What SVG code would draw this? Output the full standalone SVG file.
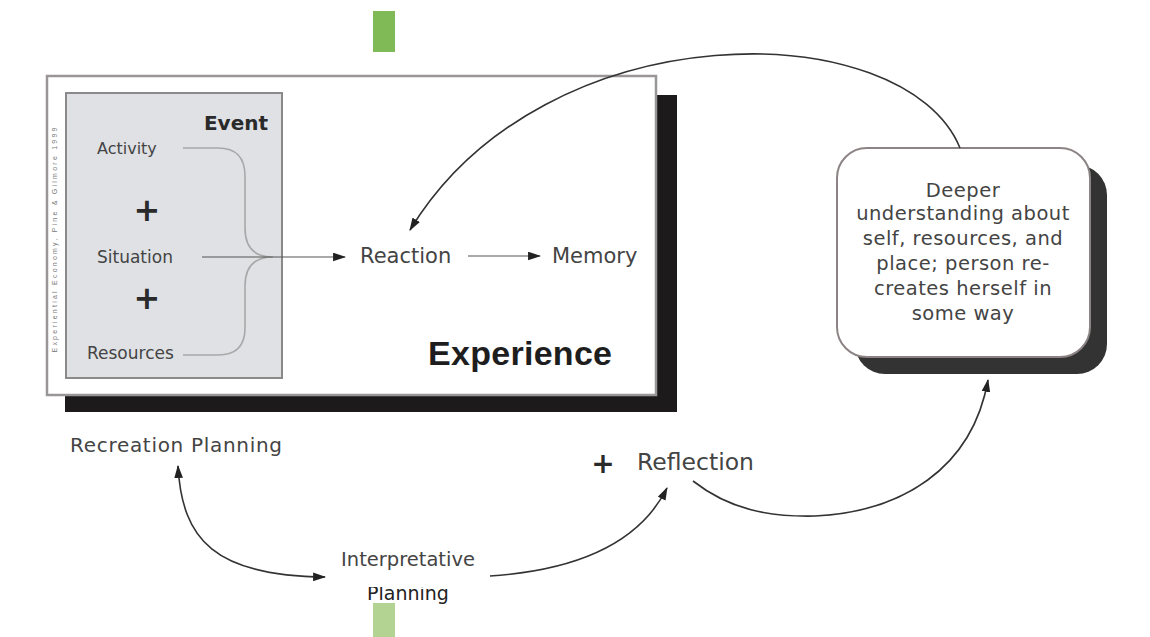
<svg xmlns="http://www.w3.org/2000/svg" width="1150" height="637" viewBox="0 0 1150 637">
  <defs>
    <style>
      .lbl { font-family: "DejaVu Sans", "Liberation Sans", sans-serif; fill: #444; }
      .plus { font-family: "DejaVu Sans", sans-serif; font-weight: bold; fill: #2a2a2a; text-anchor: middle; }
      .conn { fill: none; stroke: #333; stroke-width: 1.6; }
      .thin { fill: none; stroke: #555; stroke-width: 1.2; }
    </style>
    <marker id="ah" viewBox="0 0 12 8" refX="11" refY="4" markerWidth="13" markerHeight="9" markerUnits="userSpaceOnUse" orient="auto-start-reverse">
      <path d="M0,0 L12,4 L0,8 Z" fill="#222"/>
    </marker>
    <clipPath id="clipPlan">
      <rect x="300" y="587" width="250" height="40"/>
    </clipPath>
  </defs>
  <rect width="1150" height="637" fill="#ffffff"/>

  <!-- decorative green bars -->
  <rect x="373" y="11" width="22" height="41" fill="#7fba56"/>
  <rect x="373" y="603" width="22" height="34" fill="#b3d393"/>

  <!-- Experience box -->
  <g id="experience">
    <rect x="65" y="95" width="612" height="317" fill="#1c1a1b"/>
    <rect x="47" y="76" width="609" height="319" fill="#ffffff" stroke="#9a9696" stroke-width="2.5"/>
    <text x="57" y="240" font-family="Liberation Sans, sans-serif" font-size="7" fill="#777" text-anchor="middle" transform="rotate(-90 57 240)" textLength="225">Experiential Economy, Pine &amp; Gilmore 1999</text>
    <text x="428" y="365" font-family="Liberation Sans, sans-serif" font-weight="bold" font-size="34" fill="#1e1e1e" textLength="184">Experience</text>
  </g>

  <!-- Event box -->
  <g id="event">
    <rect x="66" y="93" width="216" height="285" fill="#dfe1e5" stroke="#8a8a8a" stroke-width="2"/>
    <text x="268" y="130" class="lbl" font-weight="bold" font-size="20" text-anchor="end" style="fill:#2a2a2a">Event</text>
    <text x="97" y="154" class="lbl" font-size="16">Activity</text>
    <text x="147" y="221" class="plus" font-size="32">+</text>
    <text x="97" y="263" class="lbl" font-size="17">Situation</text>
    <text x="147" y="309" class="plus" font-size="32">+</text>
    <text x="87" y="359" class="lbl" font-size="17">Resources</text>
    <path d="M183 148 H218 Q245 148 245 176 V228 Q245 257 273 257 Q245 257 245 286 V328 Q245 355 218 355 H183" fill="none" stroke="#a8a8a8" stroke-width="1.6"/>
  </g>

  <g id="reaction">
    <text x="360" y="263" class="lbl" font-size="21">Reaction</text>
  </g>
  <g id="memory">
    <text x="552" y="263" class="lbl" font-size="21">Memory</text>
  </g>

  <!-- Deeper understanding box -->
  <g id="deeper">
    <rect x="855" y="165" width="252" height="209" rx="30" ry="30" fill="#333333"/>
    <rect x="837" y="148" width="253" height="209" rx="30" ry="30" fill="#ffffff" stroke="#8c8484" stroke-width="2"/>
    <g class="lbl" font-size="19.5" text-anchor="middle" letter-spacing="0.5">
      <text x="963" y="197">Deeper</text>
      <text x="963" y="220">understanding about</text>
      <text x="963" y="245">self, resources, and</text>
      <text x="963" y="270">place; person re-</text>
      <text x="963" y="295">creates herself in</text>
      <text x="963" y="320">some way</text>
    </g>
  </g>

  <g id="recreation-planning">
    <text x="70" y="452" class="lbl" font-size="20" letter-spacing="0.7">Recreation Planning</text>
  </g>

  <g id="interpretative-planning">
    <text x="408" y="566" class="lbl" font-size="19.5" text-anchor="middle">Interpretative</text>
    <text x="408" y="600" font-family="DejaVu Sans, sans-serif" font-size="19" fill="#222" text-anchor="middle" clip-path="url(#clipPlan)">Planning</text>
  </g>

  <g id="reflection">
    <text x="603" y="473" class="plus" font-size="28">+</text>
    <text x="637" y="470" class="lbl" font-size="23.5">Reflection</text>
  </g>

  <!-- connectors -->
  <g id="connectors">
    <path class="thin" d="M202 257 H345" marker-end="url(#ah)"/>
    <path class="thin" d="M468 256 H540" marker-end="url(#ah)"/>
    <path class="conn" d="M960 148 C905 14 545 8 410 230" marker-end="url(#ah)"/>
    <path class="conn" d="M178 466 C182 540 215 576 325 577" marker-start="url(#ah)" marker-end="url(#ah)"/>
    <path class="conn" d="M490 576 C580 570 640 542 667 488" marker-end="url(#ah)"/>
    <path class="conn" d="M693 481 C730 510 770 517 815 516 C900 512 972 470 988 380" marker-end="url(#ah)"/>
  </g>
</svg>
